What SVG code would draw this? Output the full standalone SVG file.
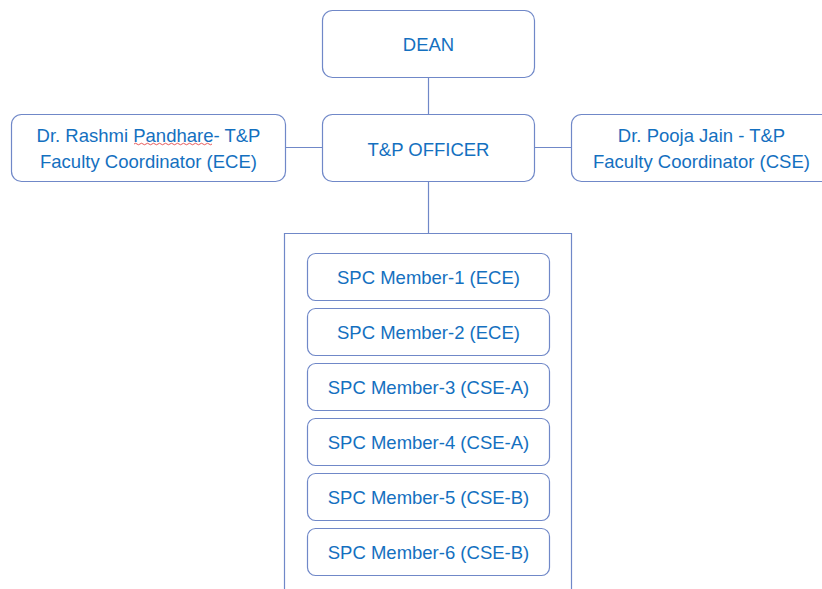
<svg xmlns="http://www.w3.org/2000/svg" width="822" height="589" viewBox="0 0 822 589">
<style>
.box{fill:#fff;stroke:#7088c8;stroke-width:1.2}
.ln{fill:none;stroke:#7088c8;stroke-width:1.2}
.t{font-family:"Liberation Sans",Arial,sans-serif;font-size:18.5px;fill:#1470c0;text-anchor:middle}
</style>
<rect width="822" height="589" fill="#fff"/>
<g id="connectors">
<line class="ln" x1="428.5" y1="77" x2="428.5" y2="114"/>
<line class="ln" x1="286" y1="147.5" x2="322" y2="147.5"/>
<line class="ln" x1="534" y1="147.5" x2="572" y2="147.5"/>
<line class="ln" x1="428.5" y1="181" x2="428.5" y2="233.5"/>
</g>
<g id="spc-container">
<path class="ln" d="M284.5 600 V233.5 H571.5 V600"/>
</g>
<g id="dean">
<rect class="box" x="322.5" y="10.5" width="212" height="67" rx="10"/>
<text class="t" x="428.5" y="50.5">DEAN</text>
</g>
<g id="tp-officer">
<rect class="box" x="322.5" y="114.5" width="212" height="67" rx="10"/>
<text class="t" x="428.5" y="155.5">T&amp;P OFFICER</text>
</g>
<g id="coord-ece">
<rect class="box" x="11.5" y="114.5" width="274" height="67" rx="10"/>
<text class="t" x="148.5" y="141.5">Dr. Rashmi Pandhare- T&amp;P</text>
<text class="t" x="148.5" y="168">Faculty Coordinator (ECE)</text>
<path d="M134 144 q1.5 -1.5 3 0 t3 0 t3 0 t3 0 t3 0 t3 0 t3 0 t3 0 t3 0 t3 0 t3 0 t3 0 t3 0 t3 0 t3 0 t3 0 t3 0 t3 0 t3 0 t3 0 t3 0 t3 0 t3 0 t3 0 t3 0 t3 0" fill="none" stroke="#e03030" stroke-width="0.8"/>
</g>
<g id="coord-cse">
<rect class="box" x="571.5" y="114.5" width="262" height="67" rx="10"/>
<text class="t" x="701.5" y="141.5">Dr. Pooja Jain - T&amp;P</text>
<text class="t" x="701.5" y="168">Faculty Coordinator (CSE)</text>
</g>
<g id="member-1">
<rect class="box" x="307.5" y="253.5" width="242" height="47" rx="8"/>
<text class="t" x="428.5" y="284">SPC Member-1 (ECE)</text>
</g>
<g id="member-2">
<rect class="box" x="307.5" y="308.5" width="242" height="47" rx="8"/>
<text class="t" x="428.5" y="339">SPC Member-2 (ECE)</text>
</g>
<g id="member-3">
<rect class="box" x="307.5" y="363.5" width="242" height="47" rx="8"/>
<text class="t" x="428.5" y="394">SPC Member-3 (CSE-A)</text>
</g>
<g id="member-4">
<rect class="box" x="307.5" y="418.5" width="242" height="47" rx="8"/>
<text class="t" x="428.5" y="449">SPC Member-4 (CSE-A)</text>
</g>
<g id="member-5">
<rect class="box" x="307.5" y="473.5" width="242" height="47" rx="8"/>
<text class="t" x="428.5" y="504">SPC Member-5 (CSE-B)</text>
</g>
<g id="member-6">
<rect class="box" x="307.5" y="528.5" width="242" height="47" rx="8"/>
<text class="t" x="428.5" y="559">SPC Member-6 (CSE-B)</text>
</g>
</svg>
